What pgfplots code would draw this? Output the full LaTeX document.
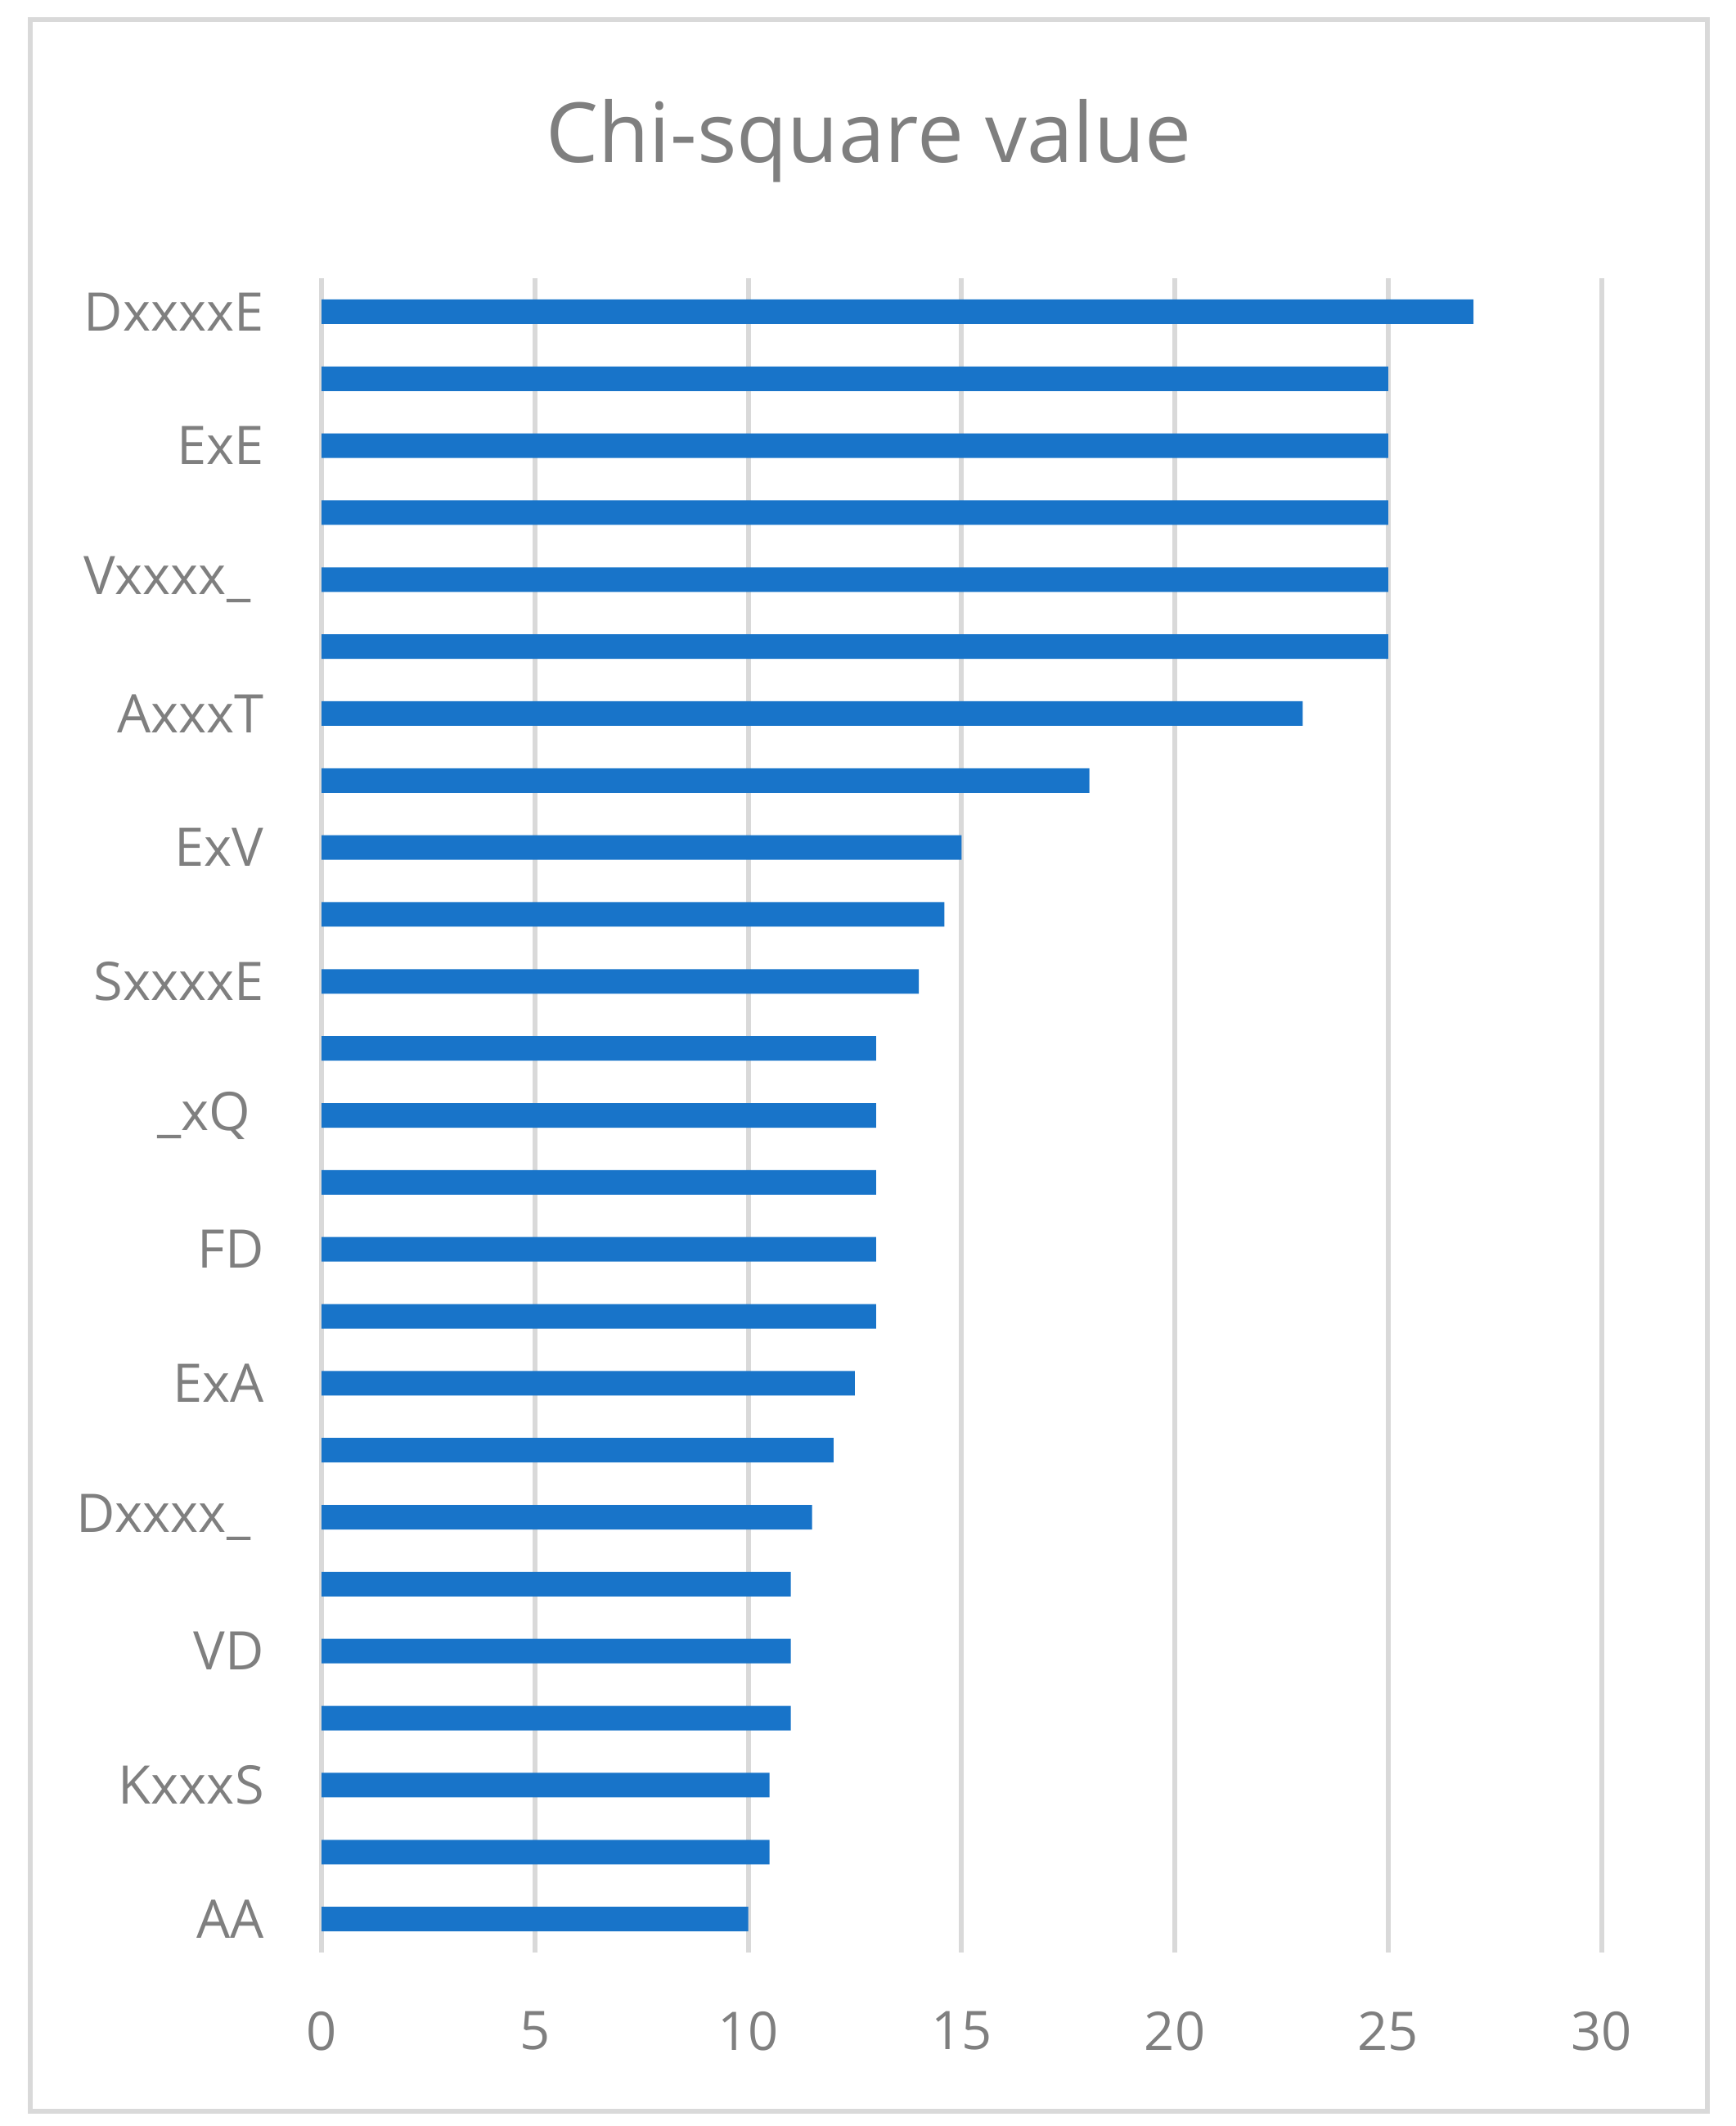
\documentclass[border=0pt]{standalone}
\usepackage{pgfplots}
\pgfplotsset{compat=1.18}
\usepackage{fontspec}
\setmainfont{Open Sans}
\definecolor{barblue}{HTML}{1874C9}
\definecolor{gridgray}{HTML}{D9D9D9}
\definecolor{txtgray}{HTML}{7F7F7F}
\begin{document}
\begin{tikzpicture}
\useasboundingbox (0,0) rectangle (424.2pt,519.6pt);
\draw[gridgray, line width=1.3pt] (7.4pt,3.6pt) rectangle (417.4pt,514.8pt);
\begin{axis}[
  at={(78.6pt,42.4pt)}, anchor=south west,
  scale only axis, width=312.9pt, height=409.2pt,
  xbar, bar width=6pt,
  xmin=0, xmax=30, ymin=0.5, ymax=25.5, y dir=reverse,
  xtick={0,5,...,30},
  ytick={1,3,...,25},
  yticklabels={DxxxxE,ExE,{Vxxxx\_\kern3.3pt},AxxxT,ExV,SxxxxE,{\_xQ\kern3.3pt},FD,ExA,{Dxxxx\_\kern3.3pt},VD,KxxxS,AA},
  axis line style={draw=none},
  tick style={draw=none},
  xmajorgrids, ymajorgrids=false,
  major grid style={color=gridgray, line width=1.2pt},
  /pgf/number format/assume math mode=true,
  ticklabel style={font=\fontsize{13.0}{16}\selectfont, text=txtgray},
  xticklabel style={anchor=north, inner sep=0pt, yshift=-14.3pt},
  yticklabel style={anchor=east, inner sep=0pt, xshift=-9.6pt},
]
\addplot[draw=none, fill=barblue] coordinates {
(27,1) (25,2) (25,3) (25,4) (25,5) (25,6) (23,7) (18,8) (15,9) (14.6,10)
(14,11) (13,12) (13,13) (13,14) (13,15) (13,16) (12.5,17) (12,18) (11.5,19) (11,20)
(11,21) (11,22) (10.5,23) (10.5,24) (10,25)
};
\end{axis}
\node[anchor=base, text=txtgray, font=\fontsize{20.3}{24}\selectfont, inner sep=0pt] at (212.4pt,479.8pt) {Chi-square value};
\end{tikzpicture}
\end{document}
